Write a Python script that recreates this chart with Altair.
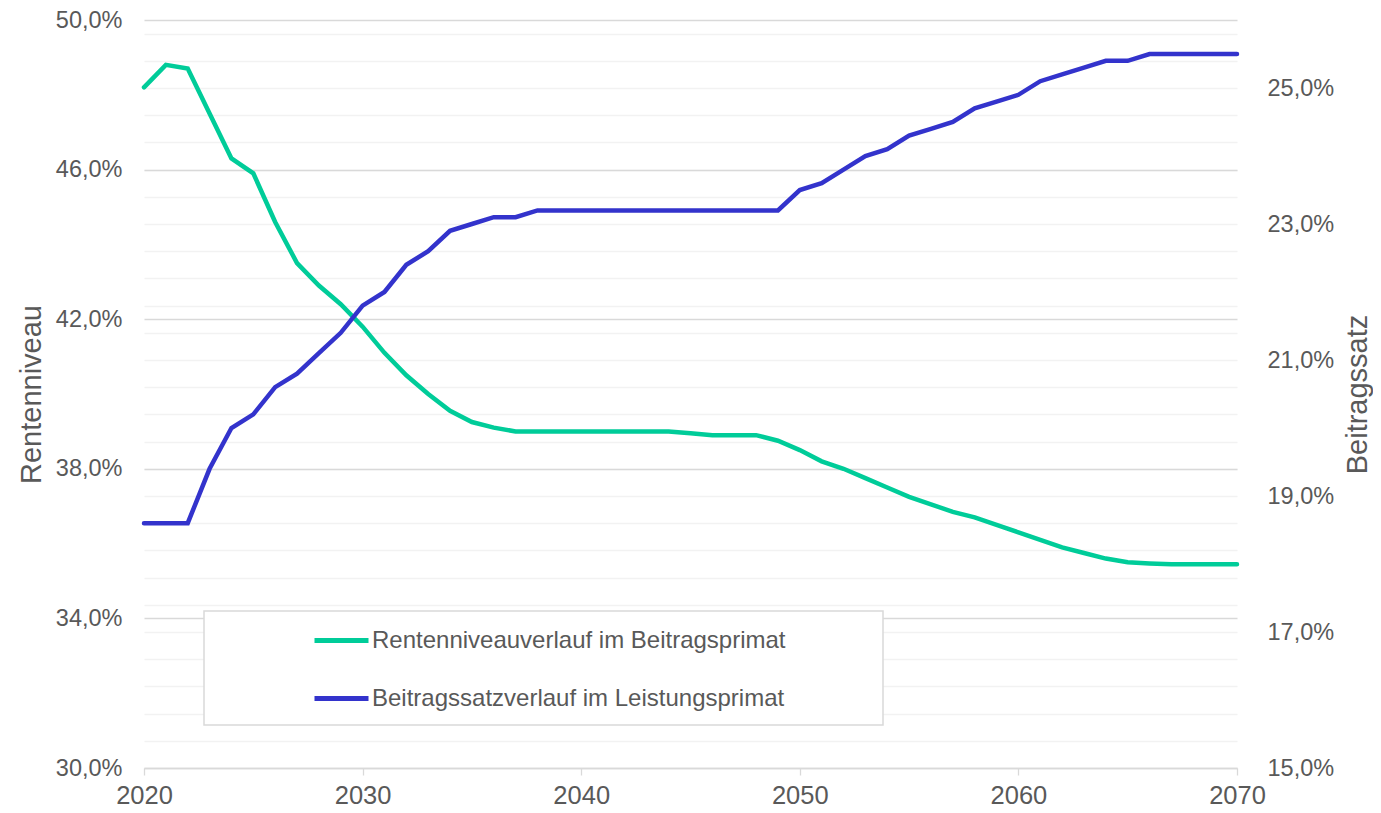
import altair as alt
import pandas as pd

years = list(range(2020, 2071))

rentenniveau = [
    48.2, 48.8, 48.7, 47.5, 46.3, 45.9, 44.6, 43.5, 42.9, 42.4,
    41.8, 41.1, 40.5, 40.0, 39.55, 39.25, 39.1, 39.0, 39.0, 39.0,
    39.0, 39.0, 39.0, 39.0, 39.0, 38.95, 38.9, 38.9, 38.9, 38.75,
    38.5, 38.2, 38.0, 37.75, 37.5, 37.25, 37.05, 36.85, 36.7, 36.5,
    36.3, 36.1, 35.9, 35.75, 35.6, 35.5, 35.47, 35.45, 35.45, 35.45,
    35.45,
]

beitragssatz = [
    18.6, 18.6, 18.6, 19.4, 20.0, 20.2, 20.6, 20.8, 21.1, 21.4,
    21.8, 22.0, 22.4, 22.6, 22.9, 23.0, 23.1, 23.1, 23.2, 23.2,
    23.2, 23.2, 23.2, 23.2, 23.2, 23.2, 23.2, 23.2, 23.2, 23.2,
    23.5, 23.6, 23.8, 24.0, 24.1, 24.3, 24.4, 24.5, 24.7, 24.8,
    24.9, 25.1, 25.2, 25.3, 25.4, 25.4, 25.5, 25.5, 25.5, 25.5,
    25.5,
]

series_names = [
    "Rentenniveauverlauf im Beitragsprimat",
    "Beitragssatzverlauf im Leistungsprimat",
]
series_colors = ["#00CC99", "#3333CC"]

x_ticks = [2020, 2030, 2040, 2050, 2060, 2070]
left_ticks = [30, 34, 38, 42, 46, 50]
right_ticks = [15, 17, 19, 21, 23, 25]
right_minor = [round(15 + 0.4 * i, 1) for i in range(28)]

df_r = pd.DataFrame({"Jahr": years, "Wert": rentenniveau, "Reihe": series_names[0]})
df_b = pd.DataFrame({"Jahr": years, "Wert": beitragssatz, "Reihe": series_names[1]})
df_box = pd.DataFrame({"k": [0]})

TXT = "#595959"
pct_expr = "replace(format(datum.value, '.1f'), '.', ',') + '%'"

x_enc = alt.X(
    "Jahr:Q",
    scale=alt.Scale(domain=[2020, 2070], nice=False),
    axis=alt.Axis(
        values=x_ticks, format="d", grid=False, title=None,
        domainColor="#D9D9D9", domainWidth=1.6,
        tickColor="#D9D9D9", tickSize=7, tickWidth=1.3,
        labelFontSize=25.5, labelColor=TXT, labelPadding=8,
        labelFlush=False,
    ),
)

legend = alt.Legend(
    title=None, orient="none", legendX=168, legendY=591,
    direction="vertical",
    symbolType="stroke", symbolSize=2916, symbolStrokeWidth=5,
    symbolOffset=0, labelOffset=1,
    labelFontSize=24, labelColor=TXT, labelLimit=800,
    rowPadding=16, padding=0,
)

color_enc = alt.Color(
    "Reihe:N",
    scale=alt.Scale(domain=series_names, range=series_colors),
    legend=legend,
)

# minor grid (right scale)
minor = alt.Chart(df_b).mark_line(strokeOpacity=0).encode(
    x=x_enc,
    y=alt.Y(
        "Wert:Q",
        scale=alt.Scale(domain=[15, 26], nice=False, zero=False),
        axis=alt.Axis(
            orient="right", values=right_minor, grid=True,
            gridColor="#F2F2F2", gridWidth=1.3,
            labels=False, ticks=False, domain=False, title=None,
        ),
    ),
)

# legend frame
box = alt.Chart(df_box).mark_rect(
    fill="white", stroke="#D9D9D9", strokeWidth=1.5
).encode(
    x=alt.value(60), x2=alt.value(739),
    y=alt.value(591), y2=alt.value(705),
)

left = alt.Chart(df_r).mark_line(strokeWidth=4.5, strokeCap="round").encode(
    x=x_enc,
    y=alt.Y(
        "Wert:Q",
        scale=alt.Scale(domain=[30, 50], nice=False, zero=False),
        axis=alt.Axis(
            orient="left", values=left_ticks, grid=True,
            gridColor="#D9D9D9", gridWidth=1.6,
            ticks=False, domain=False,
            labelExpr=pct_expr, labelFontSize=23.5, labelColor=TXT,
            labelPadding=22,
            title="Rentenniveau", titleFontSize=29, titleColor=TXT,
            titleFontWeight="normal", titleAngle=270,
            titleX=-104, titleY=374, titleAlign="center",
            titleBaseline="alphabetic",
        ),
    ),
    color=color_enc,
)

right = alt.Chart(df_b).mark_line(strokeWidth=4.5, strokeCap="round").encode(
    x=x_enc,
    y=alt.Y(
        "Wert:Q",
        scale=alt.Scale(domain=[15, 26], nice=False, zero=False),
        axis=alt.Axis(
            orient="right", values=right_ticks, grid=False,
            ticks=False, domain=False,
            labelExpr=pct_expr, labelFontSize=23.5, labelColor=TXT,
            labelPadding=30,
            title="Beitragssatz", titleFontSize=29, titleColor=TXT,
            titleFontWeight="normal", titleAngle=270,
            titleX=129, titleY=374, titleAlign="center",
            titleBaseline="alphabetic",
        ),
    ),
    color=color_enc,
)

chart = (
    alt.layer(minor, box, left, right)
    .resolve_scale(y="independent")
    .properties(
        width=1093, height=748,
        autosize=alt.AutoSizeParams(type="none"),
        padding={"left": 136, "top": 12, "right": 136, "bottom": 37},
    )
    .configure(font="Liberation Sans")
    .configure_view(stroke=None)
    .configure_axis(labelFont="Liberation Sans", titleFont="Liberation Sans")
    .configure_legend(labelFont="Liberation Sans")
)

chart.save("out.html", embed_options={"renderer": "svg", "actions": False})
